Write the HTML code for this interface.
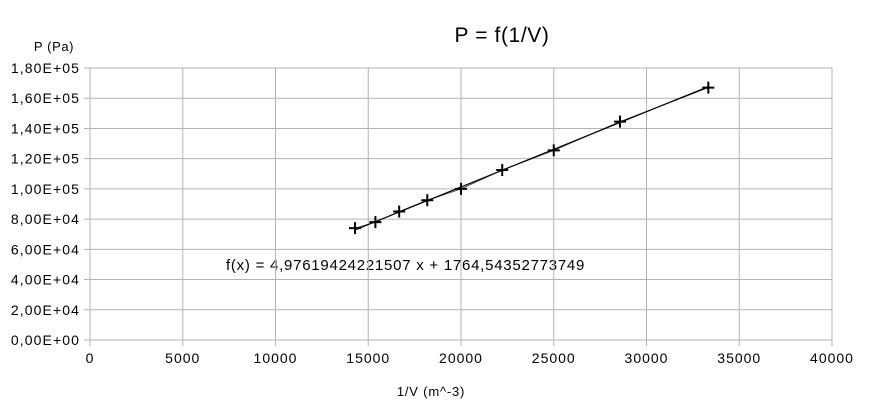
<!DOCTYPE html>
<html><head><meta charset="utf-8"><style>
body{margin:0;background:#fff;font-family:"Liberation Sans",sans-serif}
svg text{font-family:"Liberation Sans",sans-serif}
</style></head><body>
<svg id="c" width="869" height="410" viewBox="0 0 869 410">
<rect width="869" height="410" fill="#fff"/>
<text x="502" y="42" font-size="21" letter-spacing="0.6" text-anchor="middle">P = f(1/V)</text>
<text x="54" y="51" font-size="13" letter-spacing="0.6" text-anchor="middle">P (Pa)</text>
<text x="431" y="396" font-size="13" letter-spacing="0.8" text-anchor="middle">1/V (m^-3)</text>
<text x="226" y="270" font-size="15" letter-spacing="0.75">f(x) = 4,97619424221507 x + 1764,54352773749</text>
<g id="grid"></g><g id="marks"></g>
</svg>
<script>
const xTicks=[0,5000,10000,15000,20000,25000,30000,35000,40000];
const yTicks=[0,20000,40000,60000,80000,100000,120000,140000,160000,180000];
const yTickLabels=["0,00E+00","2,00E+04","4,00E+04","6,00E+04","8,00E+04","1,00E+05","1,20E+05","1,40E+05","1,60E+05","1,80E+05"];
const xValues=[14286,15385,16667,18182,20000,22222,25000,28571,33333];
const pValues=[74000,78000,85000,92500,100000,112500,125500,144500,167000];
const slope=4.97619424221507, intercept=1764.54352773749;
const X=v=>90+v/40000*742, Y=v=>340-v/180000*272;
const NS="http://www.w3.org/2000/svg";
const g=document.getElementById('grid'), m=document.getElementById('marks');
function mk(p,tag,a){const e=document.createElementNS(NS,tag);for(const k in a)e.setAttribute(k,a[k]);p.appendChild(e);return e;}
yTicks.forEach((t,i)=>{
 const l=mk(g,'line',{x1:84,x2:832,y1:Y(t),y2:Y(t),stroke:'#b3b3b3','stroke-width':1});
 
 
 const tx=mk(g,'text',{x:80,y:Y(t)+5,'font-size':14,'letter-spacing':1.1,'text-anchor':'end'});tx.textContent=yTickLabels[i];
 
 
});
xTicks.forEach(t=>{
 const l=mk(g,'line',{x1:X(t),x2:X(t),y1:68,y2:346,stroke:'#b3b3b3','stroke-width':1});
 
 
 const tx=mk(g,'text',{x:X(t),y:363,'font-size':14,'letter-spacing':1,'text-anchor':'middle'});tx.textContent=t;
 
 
});
const pts=xValues.map((x,i)=>X(x)+','+Y(pValues[i])).join(' ');
const dl=mk(m,'polyline',{points:pts,fill:'none',stroke:'#555','stroke-width':1});


const x0=Math.min(...xValues),x1=Math.max(...xValues);
const tl=mk(m,'line',{x1:X(x0),y1:Y(slope*x0+intercept),x2:X(x1),y2:Y(slope*x1+intercept),stroke:'#000','stroke-width':1.2});


xValues.forEach((x,i)=>{
 const cx=X(x),cy=Y(pValues[i]);
 const p=mk(m,'path',{d:`M${cx-6},${cy}H${cx+6}M${cx},${cy-6}V${cy+6}`,stroke:'#000','stroke-width':2});
 
 
});
</script>
</body></html>
